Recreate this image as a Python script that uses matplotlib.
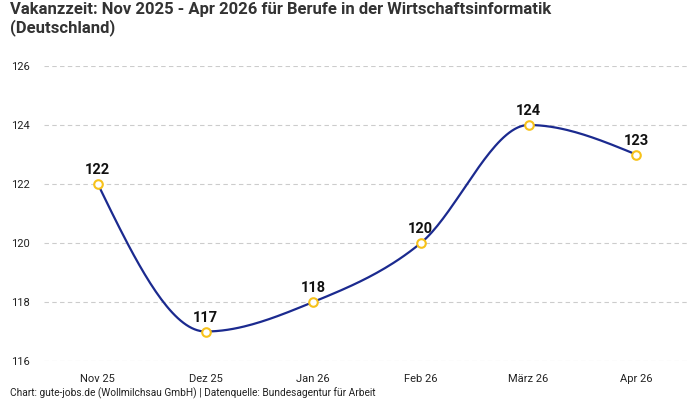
import numpy as np
import matplotlib
matplotlib.use("Agg")
import matplotlib.pyplot as plt

categories = ["Nov 25", "Dez 25", "Jan 26", "Feb 26", "März 26", "Apr 26"]
values = [122, 117, 118, 120, 124, 123]
yticks = [116, 118, 120, 122, 124, 126]

title = "Vakanzzeit: Nov 2025 - Apr 2026 für Berufe in der Wirtschaftsinformatik\n(Deutschland)"
footer = "Chart: gute-jobs.de (Wollmilchsau GmbH) | Datenquelle: Bundesagentur für Arbeit"

LINE = "#1b2a8f"
MARK = "#f7c21a"

plt.rcParams['font.family'] = ['Roboto', 'DejaVu Sans']


def monotone_curve(x, y, n=40):
    x = np.asarray(x, float); y = np.asarray(y, float)
    h = np.diff(x); s = np.diff(y) / h
    m = np.zeros_like(y)
    for i in range(1, len(y) - 1):
        if s[i - 1] * s[i] <= 0:
            m[i] = 0
        else:
            p = (s[i - 1] * h[i] + s[i] * h[i - 1]) / (h[i - 1] + h[i])
            m[i] = (np.sign(s[i - 1]) + np.sign(s[i])) * min(abs(s[i - 1]), abs(s[i]), 0.5 * abs(p))
    m[0] = (3 * s[0] - m[1]) / 2 if len(y) > 2 else s[0]
    m[-1] = (3 * s[-1] - m[-2]) / 2 if len(y) > 2 else s[-1]
    xs, ys = [], []
    for i in range(len(x) - 1):
        t = np.linspace(0, 1, n)
        h00 = 2 * t**3 - 3 * t**2 + 1
        h10 = t**3 - 2 * t**2 + t
        h01 = -2 * t**3 + 3 * t**2
        h11 = t**3 - t**2
        xs.append(x[i] + t * h[i])
        ys.append(h00 * y[i] + h10 * h[i] * m[i] + h01 * y[i + 1] + h11 * h[i] * m[i + 1])
    return np.concatenate(xs), np.concatenate(ys)


fig = plt.figure(figsize=(7, 4), dpi=100)
ax = fig.add_axes([44 / 700, 1 - 361 / 400, 646 / 700, 295 / 400])

xpos = np.arange(len(categories))
cx, cy = monotone_curve(xpos, values)
ax.plot(cx, cy, color=LINE, lw=1.6, zorder=3, clip_on=False)
ax.scatter(xpos, values, s=38, facecolor="white", edgecolor=MARK, linewidth=1.5, zorder=4, clip_on=False)
for xi, v in zip(xpos, values):
    ax.annotate(str(v), (xi, v), xytext=(0, 5), textcoords="offset points",
                ha="center", va="bottom", fontsize=10.5, fontweight="bold", color="#111111")

ax.set_xlim(-0.5, len(categories) - 0.5)
ax.set_ylim(116, 126)
ax.set_yticks(yticks)
ax.set_xticks(xpos)
ax.set_xticklabels(categories)
ax.grid(axis="y", color="#cccccc", linestyle=(0, (4, 3)), linewidth=0.8)
ax.set_axisbelow(True)
for sp in ax.spines.values():
    sp.set_visible(False)
ax.tick_params(axis="both", length=0, labelsize=8, colors="#222222")
ax.tick_params(axis="y", pad=10)
ax.tick_params(axis="x", pad=9)

fig.text(10 / 700, 1 - 2 / 400, title, ha="left", va="top", fontsize=12,
         fontweight="bold", color="#333333", linespacing=1.15)
fig.text(10 / 700, 1 - 393 / 400, footer, ha="left", va="center", fontsize=7.3, color="#222222")

fig.savefig("out.png", dpi=100)
